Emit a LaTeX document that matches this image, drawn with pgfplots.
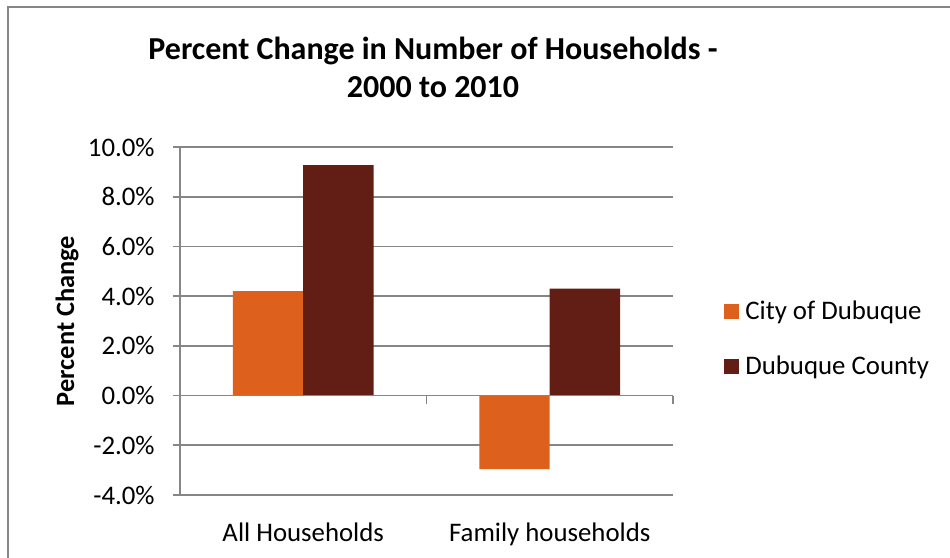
\documentclass[border=0pt]{standalone}
\usepackage{fontspec}
\setmainfont{Carlito}
\usepackage{pgfplots}
\pgfplotsset{compat=1.18}
\definecolor{cityor}{HTML}{DD601D}
\definecolor{countyred}{HTML}{621E15}
\definecolor{gridgray}{HTML}{868686}
\begin{document}
\begin{tikzpicture}
\path[use as bounding box] (0pt,0pt) rectangle (475pt,279pt);
\draw[gridgray, line width=0.8pt] (4pt,0pt) -- (4pt,275.5pt) -- (475pt,275.5pt);
\node[font=\bfseries\fontsize{16}{19}\selectfont, anchor=base] at (216.5pt,249pt) {Percent Change in Number of Households -};
\node[font=\bfseries\fontsize{16}{19}\selectfont, anchor=base] at (216.5pt,230.35pt) {2000 to 2010};
\begin{axis}[
  at={(90pt,31.5pt)}, anchor=south west,
  scale only axis, width=246.5pt, height=174pt,
  ybar=0pt, bar width=0.285,
  xmin=0.5, xmax=2.5, ymin=-4, ymax=10,
  xtick={1,2}, xticklabels={All Households, Family households},
  ytick={-4,-2,0,2,4,6,8,10},
  axis x line*=bottom, axis y line*=left,
  x axis line style={draw=none},
  y axis line style={gridgray, line width=0.9pt},
  xtick style={draw=none},
  ytick style={gridgray, line width=0.9pt},
  tick align=outside, major tick length=3.5pt,
  ymajorgrids, grid style={gridgray, line width=0.9pt},
  /pgf/number format/assume math mode=true,
  yticklabel={\pgfmathprintnumber[fixed,fixed zerofill,precision=1]{\tick}\%},
  ticklabel style={font=\fontsize{13.4}{16}\selectfont},
  yticklabel style={anchor=east, inner sep=0pt, xshift=-9pt},
  xticklabel style={anchor=north, inner sep=0pt, yshift=-10pt},
  ylabel={Percent Change},
  ylabel style={font=\bfseries\fontsize{13.2}{15.6}\selectfont, at={(axis description cs:-0.2292,0.5)}, anchor=center},
  legend style={at={(axis description cs:1.1034,0.448)}, anchor=west, draw=none, inner sep=0pt,
    nodes={inner sep=0pt, anchor=west, font=\fontsize{13.4}{16}\selectfont}, column sep=3pt, row sep=16.5pt},
  legend image code/.code={\fill[#1] (0pt,-3.75pt) rectangle (7.5pt,3.75pt);},
  legend cell align=left,
  clip=false,
]
\addplot[fill=cityor, draw=none] coordinates {(1,4.2) (2,-2.96)};
\addplot[fill=countyred, draw=none] coordinates {(1,9.27) (2,4.3)};
\legend{City of Dubuque, Dubuque County}
\draw[gridgray, line width=0.9pt] (axis cs:0.5,0) -- (axis cs:2.5,0);
\draw[gridgray, line width=0.9pt] (axis cs:1.5,0) -- ++(0pt,-4pt);
\draw[gridgray, line width=0.9pt] (axis cs:2.5,0) -- ++(0pt,-4pt);
\end{axis}
\end{tikzpicture}
\end{document}
